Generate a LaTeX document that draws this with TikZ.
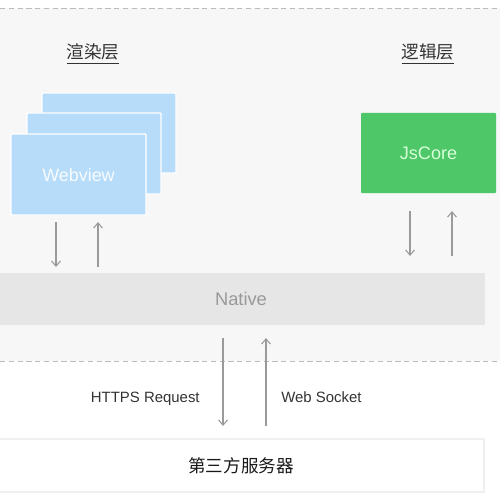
\documentclass[tikz,border=0pt]{standalone}
\usepackage{fontspec}
\setmainfont{Liberation Sans}
\newfontfamily\cjk{Noto Sans CJK SC}
\usetikzlibrary{arrows.meta}
\definecolor{bgcol}{HTML}{F7F7F7}
\definecolor{wvblue}{HTML}{B6DCFA}
\definecolor{jsgreen}{HTML}{4DC767}
\definecolor{nativegray}{HTML}{E6E6E6}
\definecolor{arrowgray}{HTML}{9A9A9A}
\definecolor{dashgray}{HTML}{BBBBBB}
\definecolor{textdark}{HTML}{333333}
\tikzset{
  px/.style={x=0.02cm,y=-0.02cm},
  wvbox/.style={fill=wvblue,draw=white,line width=0.8pt,rounded corners=0.5pt},
  flow/.style={draw=arrowgray,line width=0.6pt,-{Straight Barb[length=3pt,width=5pt]}},
  title/.style={font=\cjk\fontsize{10}{12}\selectfont,text=textdark},
  lbl/.style={font=\fontsize{8.5}{10}\selectfont,text=textdark,inner sep=0pt},
  sep/.style={draw=dashgray,dash pattern=on 3pt off 2pt,line width=0.5pt}
}
\begin{document}
\begin{tikzpicture}[px]
\useasboundingbox (0,0) rectangle (500,500);
\fill[white] (0,0) rectangle (500,500);
\fill[bgcol] (0,8) rectangle (500,361);
\draw[sep] (0,8) -- (500,8);
\draw[sep] (0,361) -- (500,361);
% titles
\node[title] (t1) at (93,54) {\underline{渲染层}};
\node[title] (t2) at (428,54) {\underline{逻辑层}};
% webview stack
\draw[wvbox] (42,93) rectangle (176,173);
\draw[wvbox] (27,113) rectangle (161,194);
\draw[wvbox] (11,134) rectangle (146,215);
\node[inner sep=0pt,font=\fontsize{10.2}{12}\selectfont,text=white!92!wvblue] (wv) at (78.5,175) {Webview};
% jscore
\fill[jsgreen,rounded corners=0.5pt] (361,113) rectangle (496,193);
\node[inner sep=0pt,font=\fontsize{10.3}{12}\selectfont,text=green!15!white] (jst) at (428.5,153) {JsCore};
% native
\fill[nativegray] (0,273) rectangle (485,325);
\node[inner sep=0pt,font=\fontsize{10.4}{12}\selectfont,text=black!40] (nat) at (241,299) {Native};
% server
\draw[fill=white,draw=black!6,line width=0.8pt] (-2,439) rectangle (484,492);
\node[inner sep=0pt,font=\cjk\fontsize{10}{12}\selectfont,text=black!90] (srv) at (241,466) {第三方服务器};
% arrow coordinates
\coordinate (a1t) at (56,222); \coordinate (a1b) at (56,267);
\coordinate (a2t) at (98,222); \coordinate (a2b) at (98,267);
\coordinate (a3t) at (410,211); \coordinate (a3b) at (410,256);
\coordinate (a4t) at (452,211); \coordinate (a4b) at (452,256);
\coordinate (a5t) at (223,338); \coordinate (a5b) at (223,426);
\coordinate (a6t) at (266,338); \coordinate (a6b) at (266,426);
\draw[flow] (a1t) -- (a1b);
\draw[flow] (a2b) -- (a2t);
\draw[flow] (a3t) -- (a3b);
\draw[flow] (a4b) -- (a4t);
\draw[flow] (a5t) -- (a5b);
\draw[flow] (a6b) -- (a6t);
\node[lbl,anchor=base east] (l1) at (200,402) {HTTPS Request};
\node[lbl,anchor=base west] (l2) at (281,402) {Web Socket};
\end{tikzpicture}
\end{document}
